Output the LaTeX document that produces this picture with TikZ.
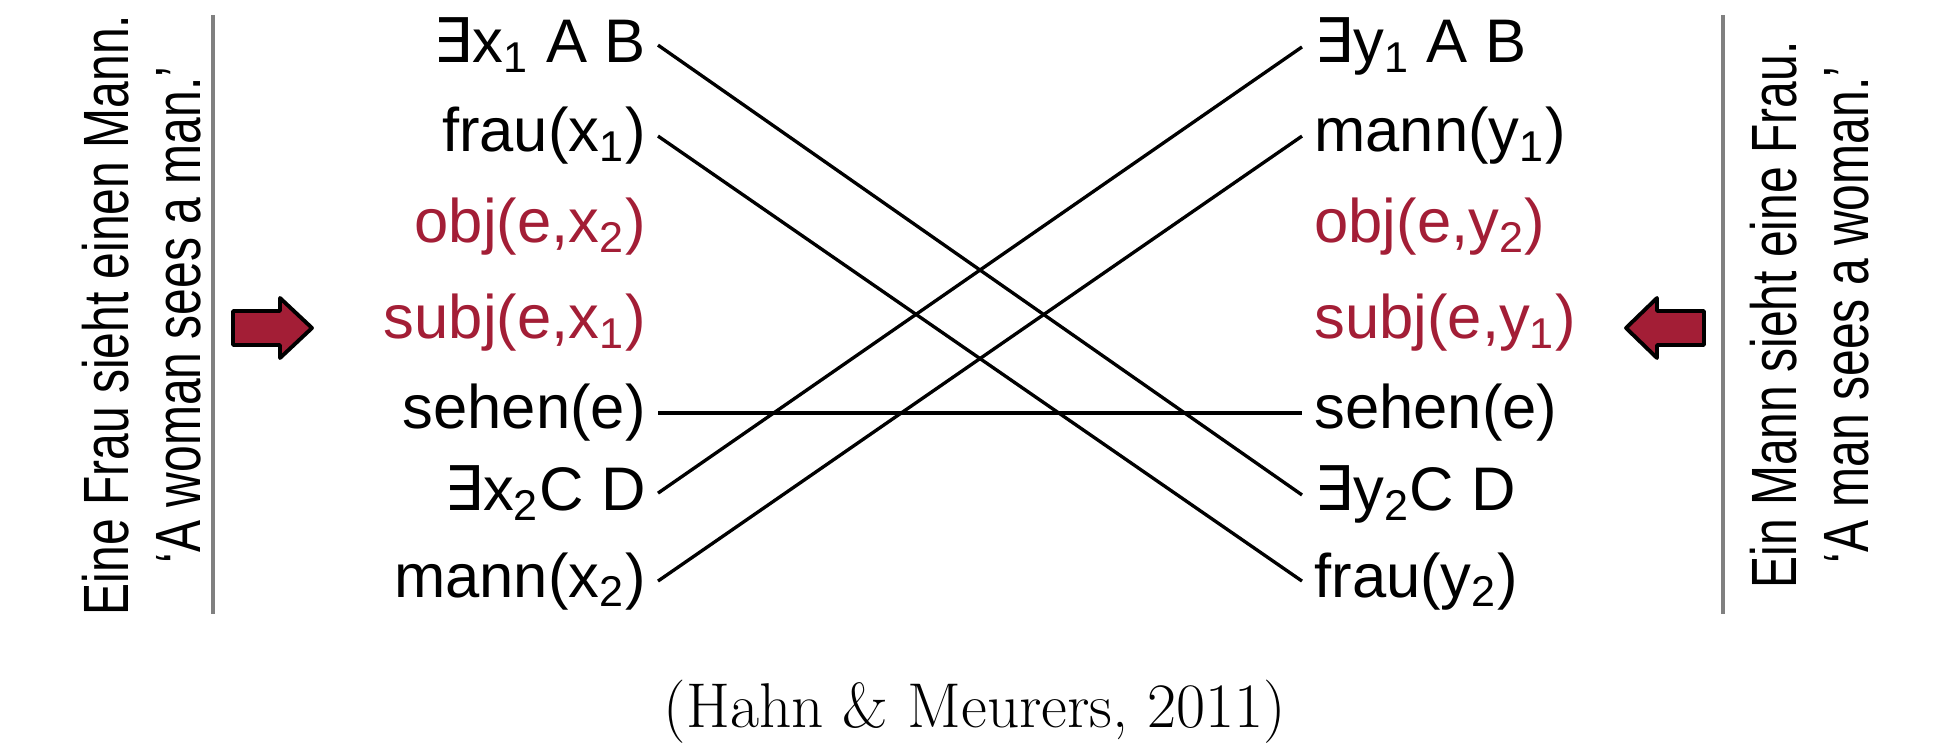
\documentclass[tikz,border=0pt]{standalone}
\usepackage{fontspec}
\newfontfamily\labelfont{Liberation Sans}
\newfontfamily\narrowfont[FakeStretch=0.75]{Liberation Sans}
\newfontfamily\exfont{DejaVu Sans}
\usepackage{tikz}
\definecolor{predred}{RGB}{163,30,54}
\definecolor{rulegray}{RGB}{128,128,128}
\newcommand{\exq}{{\exfont ∃}}

\begin{document}
\begin{tikzpicture}[x=0.01cm, y=-0.01cm,
  term/.style={font=\labelfont\fontsize{17.5}{20}\selectfont},
  lterm/.style={term, anchor=base east},
  rterm/.style={term, anchor=base west},
  role/.style={text=predred},
  gloss/.style={font=\narrowfont\fontsize{18.2}{20.5}\selectfont, align=center, rotate=90},
  divider/.style={rulegray, line width=1pt},
  link/.style={line width=0.95pt},
  bigarrow/.style={draw=black, fill=predred, line width=1.1pt, line join=round}
]
\useasboundingbox (0,0) rectangle (1954,746);
\def\rA{63} \def\rB{152} \def\rC{243} \def\rD{339} \def\rE{429} \def\rF{511} \def\rG{597}
\node[gloss] (glossL) at (142,315) {Eine Frau sieht einen Mann.\\‘A woman sees a man.’};
\node[gloss] (glossR) at (1810,315) {Ein Mann sieht eine Frau.\\‘A man sees a woman.’};
\draw[divider] (213,15) -- (213,614);
\draw[divider] (1723,15) -- (1723,614);

\draw[bigarrow] (233,311) -- (280,311) -- (280,298) -- (312,328) -- (280,358) -- (280,345) -- (233,345) -- cycle;
\draw[bigarrow] (1704,311) -- (1657,311) -- (1657,298) -- (1626,328) -- (1657,358) -- (1657,345) -- (1704,345) -- cycle;

\node[lterm] (xA) at (658,\rA) {\exq x\textsubscript{1} A B};
\node[lterm] (xB) at (658,\rB) {frau(x\textsubscript{1})};
\node[lterm, role] (xC) at (658,\rC) {obj(e,x\textsubscript{2})};
\node[lterm, role] (xD) at (658,\rD) {subj(e,x\textsubscript{1})};
\node[lterm] (xE) at (658,\rE) {sehen(e)};
\node[lterm] (xF) at (658,\rF) {\exq x\textsubscript{2}C D};
\node[lterm] (xG) at (658,\rG) {mann(x\textsubscript{2})};

\node[rterm] (yA) at (1302,\rA) {\exq y\textsubscript{1} A B};
\node[rterm] (yB) at (1302,\rB) {mann(y\textsubscript{1})};
\node[rterm, role] (yC) at (1302,\rC) {obj(e,y\textsubscript{2})};
\node[rterm, role] (yD) at (1302,\rD) {subj(e,y\textsubscript{1})};
\node[rterm] (yE) at (1302,\rE) {sehen(e)};
\node[rterm] (yF) at (1302,\rF) {\exq y\textsubscript{2}C D};
\node[rterm] (yG) at (1302,\rG) {frau(y\textsubscript{2})};

\draw[link] (xA.east) -- (yF.west);
\draw[link] (xB.east) -- (yG.west);
\draw[link] (xE.east) -- (yE.west);
\draw[link] (xF.east) -- (yA.west);
\draw[link] (xG.east) -- (yB.west);

\node[font=\fontsize{18}{21}\selectfont, anchor=base] (cite) at (975,728) {(Hahn \& Meurers, 2011)};
\end{tikzpicture}
\end{document}
